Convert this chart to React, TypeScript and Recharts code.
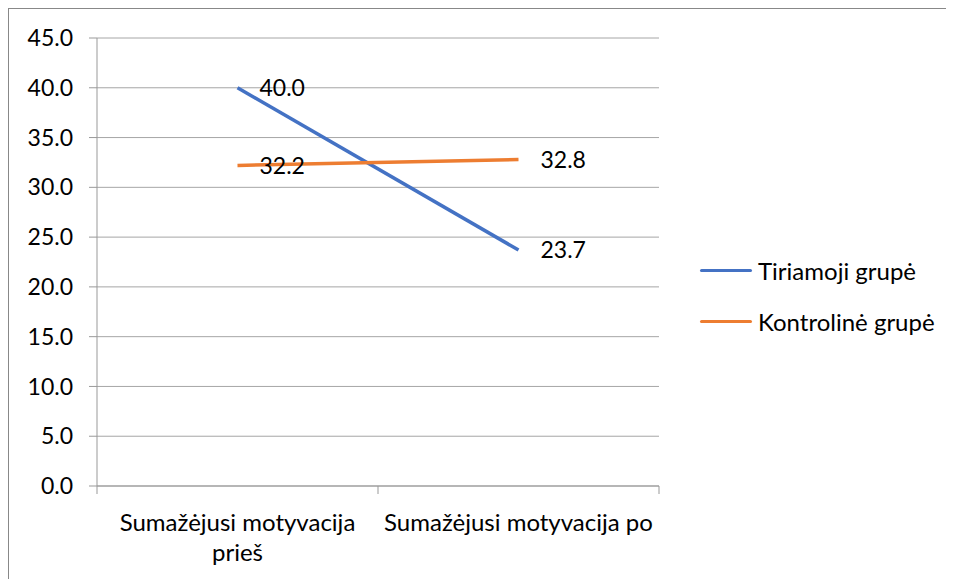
import React from 'react';
import { LineChart, Line, XAxis, YAxis, CartesianGrid, LabelList } from 'recharts';

const categories = ['Sumažėjusi motyvacija prieš', 'Sumažėjusi motyvacija po'];
const tiriamoji = [40.0, 23.7];
const kontroline = [32.2, 32.8];
const yTicks = [0, 5, 10, 15, 20, 25, 30, 35, 40, 45];

const seriesNames = ['Tiriamoji grupė', 'Kontrolinė grupė'];
const colors = ['#4472C4', '#ED7D31'];

const data = categories.map((c, i) => ({ name: c, t: tiriamoji[i], k: kontroline[i] }));

const FONT = 'Lato, "Noto Sans", sans-serif';
const BAND = 281;

// wraps the category name the way the original did
function splitLabel(s: string): string[] {
  if (s.endsWith(' prieš')) return [s.slice(0, -6), 'prieš'];
  return [s];
}

function CatTick(props: any) {
  const { x, y, payload, index, visibleTicksCount } = props;
  const lines = splitLabel(payload.value);
  const last = index === visibleTicksCount - 1;
  return (
    <g>
      <line x1={x - BAND / 2} x2={x - BAND / 2} y1={y - 8} y2={y} stroke="#999" />
      {last && <line x1={x + BAND / 2} x2={x + BAND / 2} y1={y - 8} y2={y} stroke="#999" />}
      <text x={x} y={y + 37} textAnchor="middle" fontSize={24} fontFamily={FONT} fill="#000">
        {lines.map((l, i) => (
          <tspan key={i} x={x} dy={i === 0 ? 0 : 30}>{l}</tspan>
        ))}
      </text>
    </g>
  );
}

function LegendBox() {
  return (
    <div style={{ position: 'absolute', left: 691, top: 236, fontFamily: FONT, fontSize: 24, color: '#000' }}>
      {seriesNames.map((n, i) => (
        <div key={n} style={{ display: 'flex', alignItems: 'center', height: 51 }}>
          <span style={{ display: 'inline-block', width: 52, height: 3, background: colors[i], marginRight: 6, borderRadius: 2 }} />
          <span>{n}</span>
        </div>
      ))}
    </div>
  );
}

export default function App() {
  return (
    <div style={{ position: 'relative', width: 945, height: 570, borderTop: '1px solid #888', borderLeft: '1px solid #888', background: '#fff' }}>
      <LineChart width={945} height={570} data={data} margin={{ top: 29, right: 295, left: 0, bottom: 33 }}>
        <CartesianGrid vertical={false} stroke="#a6a6a6" />
        <XAxis
          dataKey="name"
          height={60}
          stroke="#999"
          tickLine={false}
          tick={<CatTick />}
          interval={0}
          padding={{ left: BAND / 2, right: BAND / 2 }}
        />
        <YAxis
          domain={[0, 45]}
          ticks={yTicks}
          width={88}
          stroke="#999"
          tickSize={8}
          tickFormatter={(v: number) => v.toFixed(1)}
          tick={{ fontSize: 23, fontFamily: FONT, fill: '#000', dx: -14 }}
        />
        <Line dataKey="t" name={seriesNames[0]} stroke={colors[0]} strokeWidth={3.5} dot={false} isAnimationActive={false}>
          <LabelList dataKey="t" position="right" offset={22} formatter={(v: number) => v.toFixed(1)} style={{ fontSize: 23, fontFamily: FONT, fill: '#000' }} />
        </Line>
        <Line dataKey="k" name={seriesNames[1]} stroke={colors[1]} strokeWidth={3.5} dot={false} isAnimationActive={false}>
          <LabelList dataKey="k" position="right" offset={22} formatter={(v: number) => v.toFixed(1)} style={{ fontSize: 23, fontFamily: FONT, fill: '#000' }} />
        </Line>
      </LineChart>
      <LegendBox />
    </div>
  );
}
